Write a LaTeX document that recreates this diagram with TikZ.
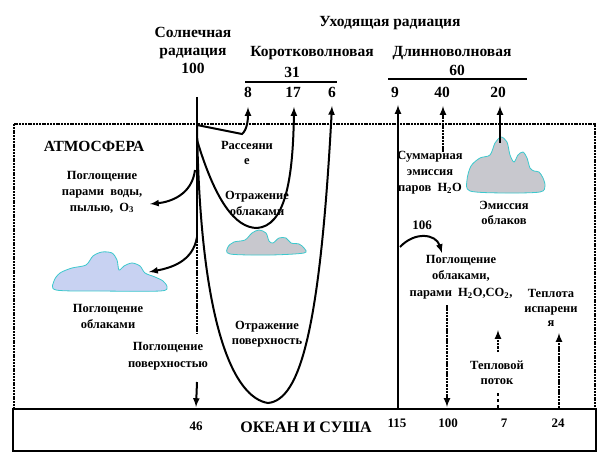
\documentclass[tikz,border=0pt]{standalone}
\usepackage{fontspec}
\setmainfont{Liberation Serif}
\usepackage{tikz}
\usetikzlibrary{positioning}

\definecolor{cloudblue}{RGB}{200,210,242}
\definecolor{cloudgray}{RGB}{200,200,206}
\definecolor{cloudedge}{RGB}{60,200,205}

\begin{document}
\begin{tikzpicture}[x=1pt,y=-1pt,
    head/.style={font=\bfseries\fontsize{15.5}{18}\selectfont,align=center,inner sep=0pt},
    lbl/.style={font=\bfseries\fontsize{12.5}{16}\selectfont,align=center,inner sep=0pt},
    num/.style={font=\bfseries\fontsize{13}{15}\selectfont,inner sep=0pt},
    flow/.style={line width=2pt},
    faint/.style={line width=2pt,dash pattern=on 2.5pt off 0.8pt},
    cloudfill/.style={draw=cloudedge,line width=0.8pt}]
      \useasboundingbox (0,0) rectangle (605,468);

      % atmosphere and ocean
      \draw[line width=2pt,dash pattern=on 2pt off 0.8pt] (14,124) rectangle (595,409);
      \draw[line width=2pt] (13,409) rectangle (596,451);

      % clouds
      \filldraw[cloudfill,fill=cloudblue] plot[smooth cycle,tension=0.5] coordinates
        {(56,290) (54,281) (60,273) (72,268) (86,265) (93,256) (102,252) (112,253) (117,260)
         (119,270) (124,266) (132,263) (140,266) (145,273) (155,277) (163,281) (167,287) (160,291) (100,291)};
      \filldraw[cloudfill,fill=cloudgray] plot[smooth cycle,tension=0.5] coordinates
        {(230,254) (228,247) (234,242) (245,240) (252,233) (259,230) (266,233) (269,241) (273,243)
         (279,238) (286,238) (291,243) (299,244) (304,248) (304,253) (270,255)};
      \filldraw[cloudfill,fill=cloudgray] plot[smooth cycle,tension=0.5] coordinates
        {(470,191) (467,180) (471,166) (480,158) (490,155) (495,143) (501,137) (507,142) (510,155)
         (514,162) (518,155) (523,152) (527,158) (530,168) (534,171) (539,172) (543,178) (545,186) (540,192) (505,193)};

      % headings
      \node[head] (sun) at (193,50) {Солнечная\\радиация\\100};
      \node[head] (out) at (390,23) {Уходящая радиация};
      \node[head] (short) at (312,53) {Коротковолновая};
      \node[head] (shortsum) at (292,72) {31};
      \node[head] (long) at (452,53) {Длинноволновая};
      \node[head] (longsum) at (457,70) {60};
      \draw[flow] (245,82) -- (337,82);
      \draw[flow] (388,79) -- (527,79);

      \node[head] (n8) at (248,92) {8};
      \node[head] (n17) at (293,92) {17};
      \node[head] (n6) at (332,92) {6};
      \node[head] (n9) at (395,92) {9};
      \node[head] (n40) at (442,92) {40};
      \node[head] (n20) at (498,92) {20};

      % labels
      \node[head] (atm) at (94,146) {АТМОСФЕРА};
      \node[lbl] (vapour) at (102,192) {Поглощение\\парами\ \ воды,\\пылью,\ \ O\textsubscript{3}};
      \node[lbl,font=\bfseries\fontsize{12.5}{15}\selectfont] (scatter) at (247,153) {Рассеяни\\е};
      \node[lbl] (cloudrefl) at (257,203) {Отражение\\облаками};
      \node[lbl] (cloudabs) at (108,316) {Поглощение\\облаками};
      \node[lbl,font=\bfseries\fontsize{12.5}{17}\selectfont] (surfabs) at (168,356) {Поглощение\\поверхностью};
      \node[lbl,font=\bfseries\fontsize{12.5}{14.5}\selectfont] (surfrefl) at (267,334) {Отражение\\поверхность};
      \node[lbl] (vapouremis) at (430,173) {Суммарная\\эмиссия\\паров\ \ H\textsubscript{2}O};
      \node[lbl,font=\bfseries\fontsize{12.5}{15}\selectfont] (cloudemis) at (504,213) {Эмиссия\\облаков};
      \node[num] (n106) at (422,225) {106};
      \node[lbl,font=\bfseries\fontsize{12.5}{16.5}\selectfont] (gasabs) at (461,277) {Поглощение\\облаками,\\парами\ \ H\textsubscript{2}O,CO\textsubscript{2},};
      \node[lbl,font=\bfseries\fontsize{12.5}{14.5}\selectfont] (latent) at (551,308) {Теплота\\испарени\\я};
      \node[lbl,font=\bfseries\fontsize{12.5}{15}\selectfont] (heat) at (497,373) {Тепловой\\поток};

      % ocean
      \node[num] (o46) at (196,426) {46};
      \node[head,font=\bfseries\fontsize{16}{18}\selectfont] (ocean) at (306,427) {ОКЕАН И СУША};
      \node[num] (o115) at (397,423) {115};
      \node[num] (o100) at (448,423) {100};
      \node[num] (o7) at (504,423) {7};
      \node[num] (o24) at (558,423) {24};

      % points
      \coordinate (ray) at (197,97);
      \coordinate (hit) at (197,125);
      \coordinate (raymid) at (197,237);
      \coordinate (rayend) at (197,333);
      \coordinate (t8) at (248,107);
      \coordinate (t17) at (294,107);
      \coordinate (t6) at (332,106);
      \coordinate (t9) at (398,105);
      \coordinate (t40) at (443,106);
      \coordinate (t20) at (500,106);
      \coordinate (b9) at (398,408);
      \coordinate (b24) at (559,408);
      \coordinate (b7) at (498,408);
      \coordinate (b100) at (447,407);

      % short wave
      \draw[flow] (ray) -- (raymid);
      \draw[faint] (raymid) -- (rayend);
      \draw[flow,-latex] (197,382) -- (o46 |- 0,407);
      \draw[flow,-latex] (hit) -- (242,134) .. controls (247,130) and (248,120) .. (t8);
      \draw[flow,-latex] (197,140) .. controls (215,200) and (235,228) .. (257,228)
                                   .. controls (285,226) and (293,180) .. (t17);
      \draw[flow,-latex] (hit) .. controls (200,330) and (235,398) .. (268,403)
                                .. controls (300,400) and (320,330) .. (t6);
      \draw[flow,-latex] (195,170) .. controls (192,195) and (170,202) .. (150,204);
      \draw[flow,-latex] (197,237) .. controls (193,262) and (170,268) .. (149,272);

      % long wave
      \draw[flow,-latex] (b9) -- (t9);
      \draw[faint,-latex] (443,152) -- (t40);
      \draw[flow,-latex] (500,143) -- (t20);
      \draw[flow,-latex] (400,247) .. controls (415,231) and (436,234) .. (442,253);
      \draw[faint,-latex] (447,305) -- (b100);
      \draw[line width=2pt,dashed] (b7) -- (498,392);
      \draw[faint,-latex] (498,352) -- (498,330);
      \draw[faint,-latex] (b24) -- (559,333);
    \end{tikzpicture}
\end{document}
